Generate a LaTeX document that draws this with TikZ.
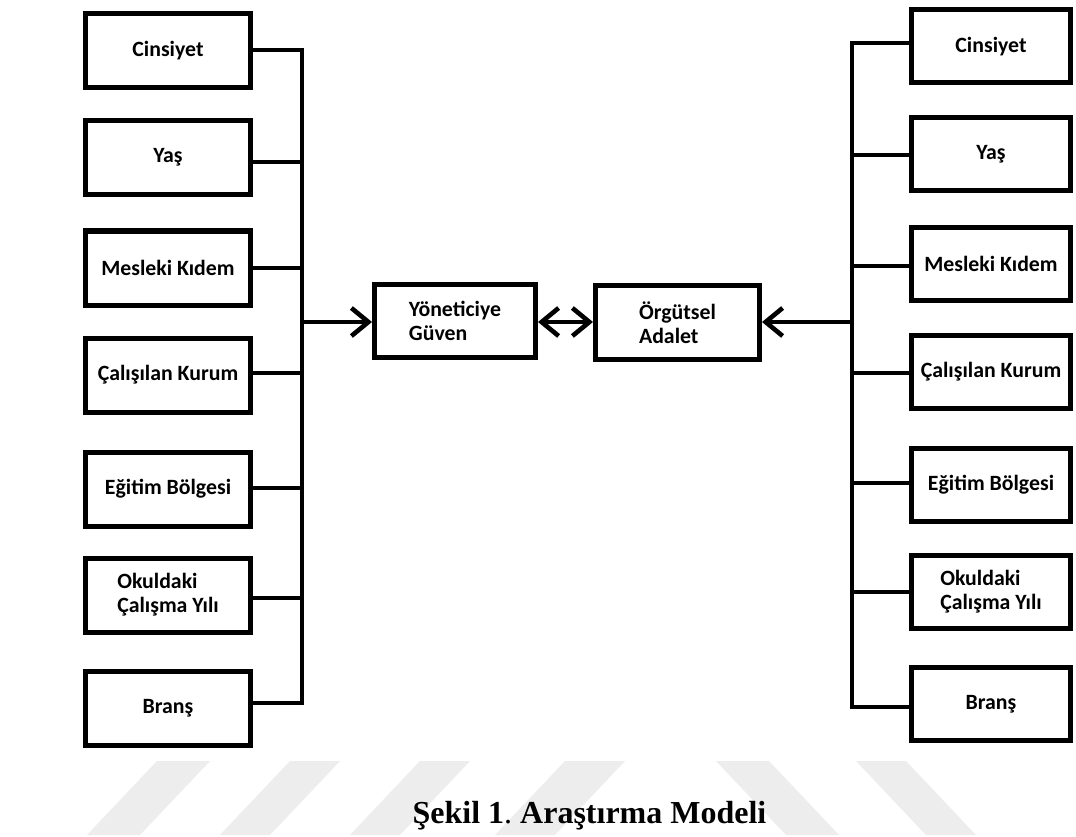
\documentclass[tikz,border=0pt]{standalone}
\usepackage{fontspec}
\setmainfont{Liberation Serif}
\newfontfamily\carl{Carlito}
\usetikzlibrary{arrows.meta}
\tikzset{
  varbox/.style={draw, line width=5pt, inner sep=0pt, align=left,
    font=\carl\bfseries\fontsize{21.8}{24}\selectfont},
  lbox/.style={varbox, minimum width=165pt, minimum height=74pt},
  rbox/.style={varbox, minimum width=159pt, minimum height=73pt},
  wire/.style={line width=4.6pt, line join=miter},
  arr/.style={line width=4.6pt, -{Straight Barb[length=17pt,width=28pt]}},
  darr/.style={line width=4.6pt, {Straight Barb[length=17pt,width=28pt]}-{Straight Barb[length=17pt,width=28pt]}},
  stripe/.style={fill=black!7, draw=none}
}
\begin{document}
\begin{tikzpicture}[x=1pt,y=-1pt]
\useasboundingbox[fill=white] (0,0) rectangle (1076,837);
% watermark stripes
\fill[stripe] (87,835) -- (140,835) -- (210,761) -- (157,761) -- cycle;
\fill[stripe] (220,835) -- (270,835) -- (340,761) -- (290,761) -- cycle;
\fill[stripe] (350,835) -- (400,835) -- (470,761) -- (420,761) -- cycle;
\fill[stripe] (495,835) -- (555,835) -- (625,761) -- (565,761) -- cycle;
\fill[stripe] (716,761) -- (769,761) -- (839,835) -- (786,835) -- cycle;
\fill[stripe] (856,761) -- (906,761) -- (976,835) -- (926,835) -- cycle;

% left boxes
\node[lbox] (L1) at (168,51) {Cinsiyet};
\node[lbox] (L2) at (168,157.5) {Yaş};
\node[lbox] (L3) at (168,268) {Mesleki Kıdem};
\node[lbox] (L4) at (168,375) {Çalışılan Kurum};
\node[lbox] (L5) at (168,489) {Eğitim Bölgesi};
\node[lbox] (L6) at (168,595) {Okuldaki\\Çalışma Yılı};
\node[lbox] (L7) at (168,708) {Branş};

% right boxes
\node[rbox] (R1) at (991,46.5) {Cinsiyet};
\node[rbox] (R2) at (991,154) {Yaş};
\node[rbox] (R3) at (991,264) {Mesleki Kıdem};
\node[rbox] (R4) at (991,371.5) {Çalışılan Kurum};
\node[rbox] (R5) at (991,485) {Eğitim Bölgesi};
\node[rbox] (R6) at (991,591.5) {Okuldaki\\Çalışma Yılı};
\node[rbox] (R7) at (991,704) {Branş};

% central boxes
\node[varbox, minimum width=161pt, minimum height=73pt] (Y) at (455,321) {Yöneticiye\\Güven};
\node[varbox, minimum width=164pt, minimum height=74pt] (O) at (677.5,322.5) {Örgütsel\\Adalet};

% bus coordinates
\coordinate (a1) at (302,50);
\coordinate (a2) at (302,162);
\coordinate (a3) at (302,268);
\coordinate (a4) at (302,373);
\coordinate (a5) at (302,488);
\coordinate (a6) at (302,598);
\coordinate (a7) at (302,703);
\coordinate (ac) at (302,322);
\coordinate (b1) at (852,43);
\coordinate (b2) at (852,155);
\coordinate (b3) at (852,266);
\coordinate (b4) at (852,373);
\coordinate (b5) at (852,483);
\coordinate (b6) at (852,592);
\coordinate (b7) at (852,707);
\coordinate (bc) at (852,322);

% left bus
\draw[wire] (L1.east |- a1) -- (a1) -- (a7) -- (L7.east |- a7);
\foreach \i in {2,...,6} \draw[wire] (L\i.east |- a\i) -- (a\i);
% right bus
\draw[wire] (R1.west |- b1) -- (b1) -- (b7) -- (R7.west |- b7);
\foreach \i in {2,...,6} \draw[wire] (R\i.west |- b\i) -- (b\i);

% arrows
\draw[arr] (ac) -- (Y.west |- ac);
\draw[darr] (Y.east |- ac) -- (O.west |- ac);
\draw[arr] (bc) -- (O.east |- bc);

% caption
\node[anchor=base, inner sep=0pt, font=\fontsize{32}{36}\selectfont] (cap) at (589.5,823)
  {\textbf{Şekil 1}.\ \textbf{Araştırma Modeli}};
\end{tikzpicture}
\end{document}
